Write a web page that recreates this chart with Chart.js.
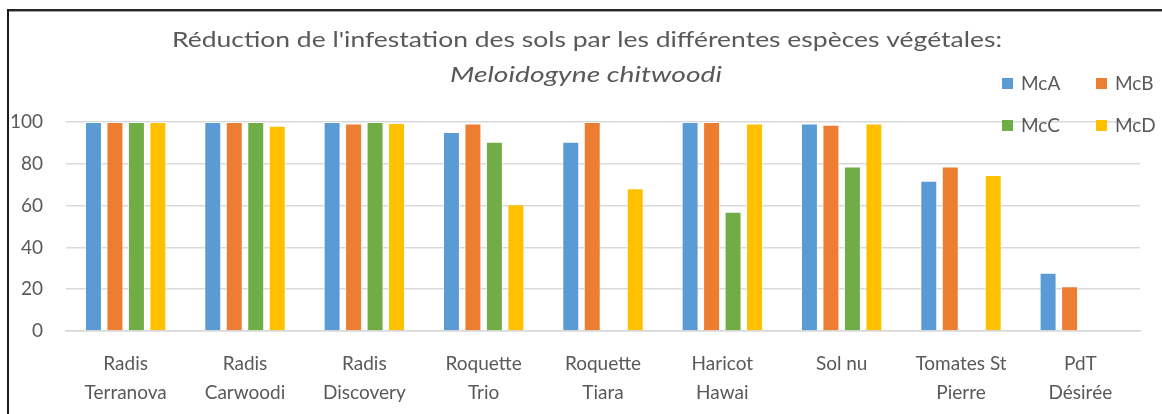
<!DOCTYPE html>
<html>
<head>
<meta charset="utf-8">
<script src="https://cdn.jsdelivr.net/npm/chart.js@4/dist/chart.umd.min.js"></script>
<style>
  html, body { margin: 0; padding: 0; background: #ffffff; }
  #wrap { position: relative; width: 1162px; height: 414px; overflow: hidden; }
  #c { position: absolute; left: 0; top: 0; }
  #frameTop { position: absolute; left: 7px; top: 9px; width: 1155px; height: 0; border-top: 2px solid #262626; box-shadow: 0 1px 0 #a0a0a0; }
  #frameLeft { position: absolute; left: 7px; top: 9px; width: 0; height: 405px; border-left: 2px solid #1a1a1a; }
</style>
</head>
<body>
<div id="wrap">
  <canvas id="c" width="1162" height="414"></canvas>
  <div id="frameTop"></div>
  <div id="frameLeft"></div>
</div>
<script>
const titleLine1 = "Réduction de l'infestation des sols par les différentes espèces végétales:";
const titleLine2 = "Meloidogyne chitwoodi";
const categories = [
  ["Radis", "Terranova"],
  ["Radis", "Carwoodi"],
  ["Radis", "Discovery"],
  ["Roquette", "Trio"],
  ["Roquette", "Tiara"],
  ["Haricot", "Hawai"],
  ["Sol nu"],
  ["Tomates St", "Pierre"],
  ["PdT", "Désirée"]
];
const seriesNames = ["McA", "McB", "McC", "McD"];
const McA = [100, 100, 100, 95.2, 90.5, 100, 99.3, 71.9, 27.9];
const McB = [100, 100, 99.3, 99.3, 100, 100, 98.7, 78.7, 21.4];
const McC = [100, 100, 100, 90.5, null, 57.0, 78.7, null, null];
const McD = [100, 98.2, 99.5, 60.6, 68.3, 99.3, 99.3, 74.7, null];
const yTicks = [0, 20, 40, 60, 80, 100];
const colors = ["#5B9BD5", "#ED7D31", "#70AD47", "#FFC000"];

const FONT = "Lato, 'Open Sans', sans-serif";
const TXT = "#595959";

function stretchedText(ctx, text, font, cx, cy, targetWidth) {
  ctx.save();
  ctx.font = font;
  const w = ctx.measureText(text).width;
  const sx = targetWidth / w;
  ctx.translate(cx, cy);
  ctx.scale(sx, 1);
  ctx.fillText(text, 0, 0);
  ctx.restore();
}

const titlePlugin = {
  id: 'customTitle',
  afterDraw(chart) {
    const ctx = chart.ctx;
    ctx.save();
    ctx.fillStyle = TXT;
    ctx.textAlign = 'center';
    ctx.textBaseline = 'middle';
    stretchedText(ctx, titleLine1, "22px " + FONT, 587, 40, 830);
    stretchedText(ctx, titleLine2, "italic 22px " + FONT, 586, 75, 272);
    ctx.restore();
  }
};

const legendPlugin = {
  id: 'customLegend',
  afterDraw(chart) {
    const ctx = chart.ctx;
    const pos = [[1002, 84], [1096, 84], [1002, 126], [1096, 126]];
    ctx.save();
    ctx.font = "19px " + FONT;
    ctx.textAlign = 'left';
    ctx.textBaseline = 'middle';
    chart.data.datasets.forEach((ds, i) => {
      const [x, y] = pos[i];
      ctx.fillStyle = ds.backgroundColor;
      ctx.fillRect(x, y - 6, 11, 11);
      ctx.fillStyle = TXT;
      ctx.fillText(ds.label, x + 19, y);
    });
    ctx.restore();
  }
};

const datasets = [McA, McB, McC, McD].map((vals, i) => ({
  label: seriesNames[i],
  data: vals,
  backgroundColor: colors[i],
  borderColor: 'rgba(255,255,255,0.6)',
  borderWidth: 1,
  barPercentage: 0.79,
  categoryPercentage: 0.72
}));

new Chart(document.getElementById('c'), {
  type: 'bar',
  data: { labels: categories, datasets },
  options: {
    responsive: false,
    devicePixelRatio: 1,
    animation: false,
    layout: { padding: { top: 122, right: 22, left: 0, bottom: 0 } },
    plugins: {
      legend: { display: false },
      title: { display: false },
      tooltip: { enabled: false }
    },
    scales: {
      x: {
        grid: { display: false, drawTicks: false },
        border: { display: true, color: '#d9d9d9', width: 1.5 },
        ticks: {
          color: TXT,
          font: { family: FONT, size: 19, lineHeight: 1.55 },
          padding: 18,
          maxRotation: 0,
          autoSkip: false
        },
        afterFit(scale) { scale.height = 83; }
      },
      y: {
        min: 0,
        max: 100,
        afterBuildTicks(scale) { scale.ticks = yTicks.map(v => ({ value: v })); },
        grid: { color: '#d9d9d9', lineWidth: 1.5, drawTicks: false },
        border: { display: false },
        ticks: {
          color: TXT,
          font: { family: FONT, size: 19 },
          padding: 23
        },
        afterFit(scale) { scale.width = 66; }
      }
    }
  },
  plugins: [titlePlugin, legendPlugin]
});
</script>
</body>
</html>
